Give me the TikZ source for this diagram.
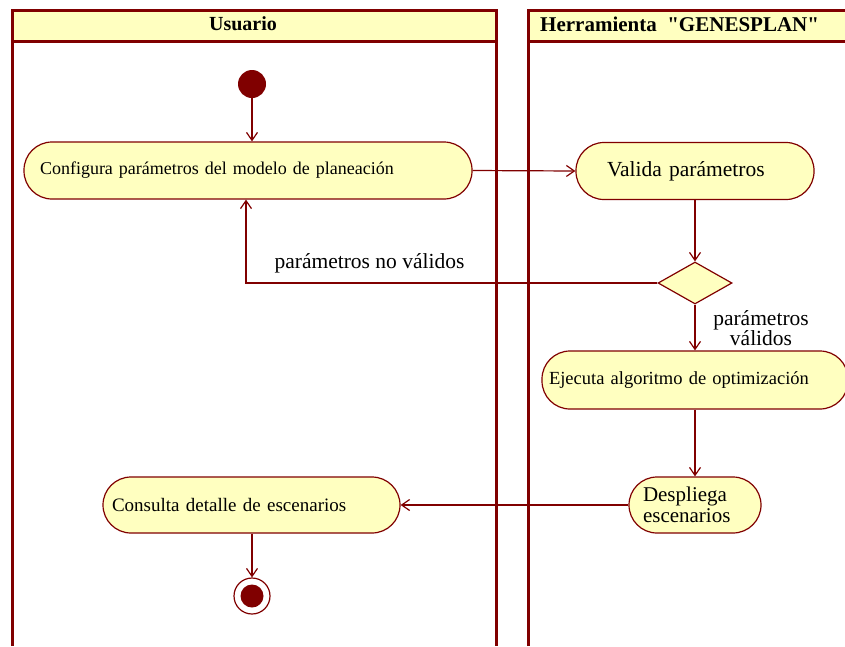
\documentclass[tikz,border=0pt]{standalone}
\usepackage{fontspec}
\setmainfont{Liberation Serif}
% same face without the TeX quote mapping, so " stays straight
\newfontfamily\straightquotes{Liberation Serif}
\usetikzlibrary{arrows.meta,shapes.geometric}
\definecolor{umlline}{RGB}{128,0,0}
\definecolor{umlfill}{RGB}{255,255,192}
\newcommand{\fsz}[1]{\fontsize{#1}{#1}\selectfont}
\tikzset{
  lane/.style={draw=umlline, line width=3pt},
  lanehead/.style={font=\fsz{20}\bfseries, inner sep=0pt},
  activity/.style={draw=umlline, fill=umlfill, line width=1.2pt,
    rectangle, rounded corners=28pt, align=left, inner ysep=2pt},
  flow/.style={draw=umlline, line width=1.2pt,
    -{Straight Barb[length=8pt,width=11pt,line width=1.2pt]}},
  guard/.style={font=\fsz{21.5}, inner sep=0pt},
}
\begin{document}
\begin{tikzpicture}[x=1pt,y=-1pt]
\useasboundingbox (0,0) rectangle (845,646);

% swimlanes
\fill[umlfill] (12,10) rectangle (496,41);
\fill[umlfill] (528,10) rectangle (850,41);
\draw[lane] (12,646) -- (12,10) -- (496,10) -- (496,646);
\draw[lane] (12,41) -- (496,41);
\draw[lane] (528,646) -- (528,10) -- (850,10);
\draw[lane] (528,41) -- (850,41);
\node[lanehead] (hdrU) at (243,24) {Usuario};
\node[lanehead, font=\fsz{21}\straightquotes\bfseries, anchor=west] (hdrH) at (540,24)
  {Herramienta\ \ "GENESPLAN"};

% initial node
\node[circle, fill=umlline, minimum size=28pt, inner sep=0pt] (start) at (252,84) {};

% activities
\node[activity, font=\fsz{18}, minimum width=448pt, minimum height=57pt,
      inner xsep=16pt, text width=416pt] (cfg) at (248,170.5)
  {Configura parámetros del modelo de planeación};
\node[activity, font=\fsz{21.5}, minimum width=238pt, minimum height=57pt,
      inner xsep=31pt, text width=176pt] (val) at (695,171)
  {Valida parámetros};
\node[diamond, draw=umlline, fill=umlfill, line width=1.2pt, inner sep=0pt,
      minimum width=74pt, minimum height=42pt] (dec) at (695,283) {};
\node[activity, font=\fsz{18.5}, minimum width=306pt, minimum height=58pt,
      inner xsep=7pt, text width=292pt] (run) at (695,380)
  {Ejecuta algoritmo de optimización};
\node[activity, font=\fsz{21}, minimum width=132pt, minimum height=56pt,
      inner xsep=14pt, text width=104pt] (show) at (695,505)
  {Despliega\\escenarios};
\node[activity, font=\fsz{19}, minimum width=297pt, minimum height=56pt,
      inner xsep=9pt, text width=279pt] (view) at (251.5,505)
  {Consulta detalle de escenarios};

% final node
\node[circle, draw=umlline, fill=white, line width=1.2pt, minimum size=36pt,
      inner sep=0pt] (stop) at (252,596) {};
\node[circle, fill=umlline, minimum size=23pt, inner sep=0pt] (stopdot) at (stop) {};

% transitions
\draw[flow] (start.south) -- (start.south |- cfg.north);
\draw[flow] (cfg.east) -- (val.west);
\draw[flow] (val.south) -- (dec.north);
\draw[flow] (dec.west) -| ([xshift=-2pt]cfg.south);
\draw[flow] (dec.south) -- (run.north);
\draw[flow] (run.south) -- (show.north);
\draw[flow] (show.west) -- (view.east);
\draw[flow] (view.south -| stop.north) -- (stop.north);

% guards
\node[guard, anchor=base] (gno) at (369.5,268) {parámetros no válidos};
\node[guard, align=center] (gok) at (761,328) {parámetros\\[-1pt]válidos};
\end{tikzpicture}
\end{document}
